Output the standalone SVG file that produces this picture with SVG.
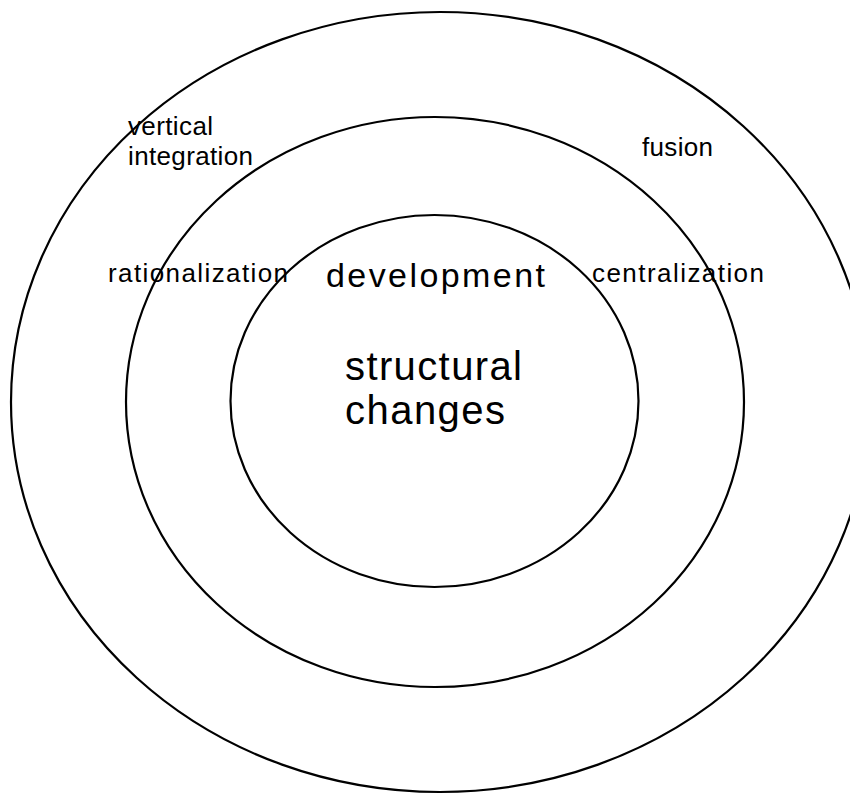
<svg xmlns="http://www.w3.org/2000/svg" width="850" height="794" viewBox="0 0 850 794">
<style>
.ring{fill:none;stroke:#000;stroke-width:2.2}
.lbl{font-family:"Liberation Sans",Arial,sans-serif;fill:#000}
.s{font-size:26px}
.m{font-size:34px}
.l{font-size:40px}
</style>
<rect width="850" height="794" fill="#fff"/>
<g id="outer-ring"><ellipse class="ring" cx="440" cy="402" rx="429" ry="390"/></g>
<g id="middle-ring"><ellipse class="ring" cx="435" cy="402" rx="309" ry="285"/></g>
<g id="inner-ring"><ellipse class="ring" cx="434.5" cy="401" rx="204" ry="186"/></g>
<g id="connectors"></g>
<g id="vertical-integration">
<text class="lbl s" x="128" y="135" textLength="85">vertical</text>
<text class="lbl s" x="128" y="165" textLength="125">integration</text>
</g>
<g id="fusion"><text class="lbl s" x="642" y="156" textLength="71">fusion</text></g>
<g id="rationalization"><text class="lbl s" x="108" y="282" textLength="180">rationalization</text></g>
<g id="centralization"><text class="lbl s" x="592" y="282" textLength="172">centralization</text></g>
<g id="development"><text class="lbl m" x="326" y="287" textLength="219">development</text></g>
<g id="structural-changes">
<text class="lbl l" x="345" y="380" textLength="177">structural</text>
<text class="lbl l" x="345" y="424" textLength="160">changes</text>
</g>
</svg>
